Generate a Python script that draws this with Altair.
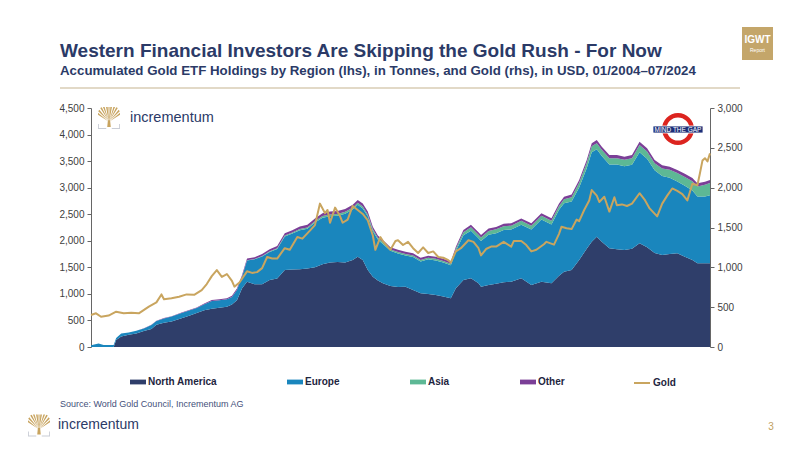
import altair as alt
import pandas as pd

# ---------------- data ----------------
dates = ["2004-01", "2004-04", "2004-06", "2004-10", "2004-11", "2005-01", "2005-04", "2005-07", "2005-10",
         "2006-01", "2006-03", "2006-06", "2006-09", "2007-01", "2007-04", "2007-07", "2007-10",
         "2008-01", "2008-04", "2008-07", "2008-09", "2008-11", "2009-01", "2009-03", "2009-06", "2009-09", "2009-12",
         "2010-03", "2010-06", "2010-09", "2010-12", "2011-03", "2011-06", "2011-09", "2011-12",
         "2012-03", "2012-06", "2012-09", "2012-11", "2013-01", "2013-03", "2013-05", "2013-07", "2013-09", "2013-12",
         "2014-03", "2014-06", "2014-09", "2014-12", "2015-03", "2015-06", "2015-09", "2015-12",
         "2016-02", "2016-05", "2016-08", "2016-11", "2016-12", "2017-03", "2017-06", "2017-09", "2017-12",
         "2018-04", "2018-08", "2018-12", "2019-04", "2019-07", "2019-09", "2019-12",
         "2020-03", "2020-06", "2020-08", "2020-10", "2020-12", "2021-03", "2021-06", "2021-09", "2021-12",
         "2022-03", "2022-06", "2022-09", "2022-12", "2023-03", "2023-06", "2023-09", "2023-12",
         "2024-02", "2024-05", "2024-07"]

north_america = [0, 0, 0, 0, 130, 200, 230, 255, 300,
                 340, 420, 455, 480, 540, 590, 640, 690,
                 720, 740, 760, 800, 880, 1100, 1230, 1180, 1180, 1262,
                 1290, 1450, 1460, 1463, 1480, 1500, 1560, 1590,
                 1600, 1590, 1640, 1700, 1640, 1450, 1324, 1250, 1200, 1150,
                 1130, 1135, 1073, 1011, 1000, 979, 950, 917,
                 1105, 1262, 1293, 1200, 1136, 1168, 1190, 1220, 1230,
                 1293, 1168, 1230, 1199, 1340, 1418, 1450,
                 1638, 1850, 1980, 2077, 1983, 1858, 1840, 1826, 1850,
                 1952, 1880, 1770, 1732, 1750, 1764, 1700, 1638,
                 1576, 1576, 1576]

europe = [35, 65, 40, 40, 40, 55, 45, 50, 50,
          75, 70, 82, 92, 100, 95, 93, 115,
          147, 140, 140, 143, 195, 222, 400, 470, 525, 528,
          555, 630, 675, 737, 746, 842, 875, 873,
          871, 920, 948, 978, 968, 1010, 860, 775, 740, 660,
          630, 590, 623, 601, 650, 651, 640, 622,
          704, 844, 897, 847, 860, 947, 953, 983, 983,
          1010, 1046, 1172, 1109, 1243, 1289, 1290,
          1365, 1516, 1688, 1646, 1614, 1578, 1596, 1578, 1581,
          1717, 1664, 1556, 1490, 1437, 1351, 1338, 1310,
          1258, 1257, 1281]

asia = [0, 0, 0, 0, 0, 0, 0, 0, 0,
        0, 0, 0, 0, 0, 0, 0, 0,
        0, 0, 0, 0, 0, 0, 5, 8, 10, 12,
        15, 18, 20, 22, 24, 26, 30, 32,
        34, 35, 36, 36, 36, 35, 32, 30, 30, 28,
        28, 28, 28, 28, 30, 30, 30, 30,
        40, 55, 65, 68, 68, 70, 72, 72, 72,
        72, 70, 70, 70, 72, 75, 80,
        90, 100, 110, 115, 115, 120, 120, 120, 125,
        135, 135, 135, 140, 150, 160, 165, 175,
        190, 220, 230]

other = [0, 0, 0, 0, 0, 0, 0, 0, 5,
         5, 5, 8, 8, 10, 10, 12, 15,
         18, 20, 20, 22, 25, 28, 30, 32, 35, 38,
         40, 42, 45, 48, 50, 52, 55, 55,
         55, 55, 56, 56, 56, 55, 50, 45, 45, 42,
         42, 42, 40, 40, 40, 40, 40, 38,
         40, 42, 45, 45, 45, 45, 45, 45, 45,
         45, 45, 45, 45, 45, 48, 50,
         52, 55, 58, 60, 60, 60, 60, 60, 60,
         62, 62, 60, 58, 58, 58, 57, 57,
         57, 57, 58]

gold_dates = ["2004-01", "2004-03", "2004-05", "2004-08", "2004-11", "2005-02", "2005-05", "2005-08", "2005-12",
              "2006-03", "2006-05", "2006-06", "2006-09", "2006-12", "2007-03", "2007-06", "2007-09", "2007-11",
              "2008-01", "2008-03", "2008-05", "2008-07", "2008-09", "2008-10", "2008-12",
              "2009-03", "2009-05", "2009-07", "2009-09", "2009-11", "2010-01", "2010-03", "2010-06", "2010-08", "2010-11",
              "2011-01", "2011-04", "2011-06", "2011-08", "2011-10", "2011-11", "2011-12",
              "2012-02", "2012-04", "2012-05", "2012-07", "2012-09", "2012-11", "2013-01", "2013-03", "2013-05", "2013-06",
              "2013-08", "2013-09", "2013-12", "2014-02", "2014-03", "2014-05", "2014-07", "2014-09", "2014-11",
              "2015-01", "2015-03", "2015-05", "2015-07", "2015-09", "2015-11", "2015-12",
              "2016-02", "2016-04", "2016-07", "2016-09", "2016-11", "2016-12", "2017-02", "2017-04", "2017-06", "2017-09", "2017-12",
              "2018-01", "2018-04", "2018-06", "2018-08", "2018-10", "2019-01", "2019-02", "2019-05", "2019-07", "2019-08", "2019-10", "2019-12",
              "2020-02", "2020-03", "2020-05", "2020-07", "2020-08", "2020-10", "2020-11",
              "2021-01", "2021-03", "2021-05", "2021-06", "2021-08", "2021-10", "2021-12",
              "2022-03", "2022-05", "2022-07", "2022-10", "2022-12", "2023-02", "2023-04", "2023-06", "2023-08", "2023-10", "2023-12",
              "2024-02", "2024-03", "2024-04", "2024-05", "2024-06", "2024-07"]

gold_usd = [402, 423, 380, 395, 443, 423, 431, 423, 506,
            560, 660, 600, 611, 630, 660, 655, 715, 790,
            890, 966, 880, 916, 830, 757, 810,
            950, 930, 940, 990, 1130, 1110, 1110, 1240, 1220, 1380,
            1360, 1460, 1530, 1800, 1680, 1720, 1560,
            1750, 1640, 1560, 1600, 1770, 1720, 1670, 1590, 1400, 1220,
            1380, 1330, 1220, 1330, 1340, 1280, 1320, 1240, 1180,
            1250, 1180, 1200, 1130, 1120, 1090, 1060,
            1200, 1240, 1340, 1320, 1240, 1150, 1230, 1260, 1260, 1320, 1260,
            1330, 1330, 1280, 1200, 1220, 1290, 1320, 1285, 1420, 1510, 1490, 1480,
            1600, 1580, 1720, 1840, 1970, 1900, 1820,
            1886, 1700, 1880, 1780, 1790, 1770, 1800,
            1930, 1850, 1740, 1640, 1800, 1900, 1990, 1960, 1920, 1840, 2050,
            2030, 2180, 2340, 2370, 2330, 2430]

regions = ["North America", "Europe", "Asia", "Other"]
region_colors = ["#2f3e6a", "#1a86bd", "#5db895", "#7b3f97"]
gold_label = "Gold"
gold_color = "#c9a55f"

x_ticks = [2004, 2006, 2008, 2010, 2012, 2014, 2016, 2018, 2020, 2022, 2024]
left_ticks = [0, 500, 1000, 1500, 2000, 2500, 3000, 3500, 4000, 4500]
right_ticks = [0, 500, 1000, 1500, 2000, 2500, 3000]

title_text = "Western Financial Investors Are Skipping the Gold Rush - For Now"
subtitle_text = "Accumulated Gold ETF Holdings by Region (lhs), in Tonnes, and Gold (rhs), in USD, 01/2004\u201307/2024"
source_text = "Source: World Gold Council, Incrementum AG"

# ---------------- tables ----------------
def to_year(s):
    y, m = s.split("-")
    return int(y) + (int(m) - 1) / 12.0

rows = []
for i, d in enumerate(dates):
    for rank, (name, vals) in enumerate(zip(regions, [north_america, europe, asia, other])):
        rows.append({"year": to_year(d), "region": name, "tonnes": vals[i], "rank": rank})
stack_df = pd.DataFrame(rows)
gold_df = pd.DataFrame({"year": [to_year(d) for d in gold_dates], "usd": gold_usd, "series": gold_label})

FONT = "Liberation Sans, Arial, sans-serif"
NAVY = "#2b3a67"

xscale = alt.Scale(domain=[2004, 2024.5], nice=False, zero=False)

area = alt.Chart(stack_df).mark_area(interpolate="linear").encode(
    x=alt.X("year:Q", scale=xscale,
            axis=alt.Axis(values=x_ticks, format="d", title=None, labelFlush=False,
                          domainColor="#333333", tickColor="#333333", tickSize=4, labelPadding=2)),
    y=alt.Y("tonnes:Q", stack="zero", scale=alt.Scale(domain=[0, 4500], nice=False),
            axis=alt.Axis(values=left_ticks, format=",.0f", title=None, orient="left",
                          domainColor="#666666", tickColor="#666666", tickSize=4, labelPadding=3)),
    color=alt.Color("region:N", scale=alt.Scale(domain=regions, range=region_colors),
                    legend=alt.Legend(orient="none", legendX=39, legendY=266, direction="horizontal",
                                      columns=4, columnPadding=70, title=None,
                                      symbolType="M-1,-0.3H1V0.3H-1Z", symbolSize=256,
                                      symbolStrokeWidth=0, labelOffset=2,
                                      labelFont=FONT, labelFontSize=10, labelFontWeight="bold",
                                      labelColor="#1e2540", padding=0)),
    order=alt.Order("rank:Q"),
)

line = alt.Chart(gold_df).mark_line(strokeWidth=2, strokeJoin="round").encode(
    x=alt.X("year:Q", scale=xscale, axis=None),
    y=alt.Y("usd:Q", scale=alt.Scale(domain=[0, 3000], nice=False),
            axis=alt.Axis(values=right_ticks, format=",.0f", title=None, orient="right",
                          domainColor="#666666", tickColor="#666666", tickSize=4, labelPadding=3)),
    stroke=alt.Stroke("series:N", scale=alt.Scale(domain=[gold_label], range=[gold_color]),
                      legend=alt.Legend(orient="none", legendX=542, legendY=266, title=None,
                                        symbolType="stroke", symbolSize=256, symbolStrokeWidth=2,
                                        labelOffset=2, labelFont=FONT, labelFontSize=10,
                                        labelFontWeight="bold", labelColor="#1e2540", padding=0)),
)

one = alt.Data(values=[{"k": 1}])

def txt(s, x, y, size, color, weight="normal", align="left", baseline="middle"):
    return alt.Chart(alt.Data(values=[{"label": s}])).mark_text(
        font=FONT, fontSize=size, color=color, fontWeight=weight, align=align, baseline=baseline
    ).encode(text="label:N", x=alt.value(x), y=alt.value(y))

# stylised Incrementum tree (fan of branches on a trunk)
TREE = ("M-0.16,0.82L-0.1,0.2L0.1,0.2L0.16,0.82Z"
        "M-0.08,0.3L-1,-0.3L-1,-0.48Z"
        "M-0.07,0.26L-0.98,-0.62L-0.88,-0.76Z"
        "M-0.06,0.23L-0.8,-0.9L-0.66,-0.97Z"
        "M-0.05,0.21L-0.55,-1L-0.4,-1Z"
        "M-0.04,0.2L-0.27,-1L-0.12,-1Z"
        "M-0.03,0.2L-0.05,-1L0.05,-1L0.03,0.2Z"
        "M0.04,0.2L0.12,-1L0.27,-1Z"
        "M0.05,0.21L0.4,-1L0.55,-1Z"
        "M0.06,0.23L0.66,-0.97L0.8,-0.9Z"
        "M0.07,0.26L0.88,-0.76L0.98,-0.62Z"
        "M0.08,0.3L1,-0.48L1,-0.3Z")
BOOK = ("M-1,0.55H-0.92V0.92H-0.25V1H-1Z"
        "M1,0.55H0.92V0.92H0.25V1H1Z")

def tree(x, y):
    return [
        alt.Chart(one).mark_point(shape=TREE, size=484, filled=True, color="#c8a45f",
                                  opacity=1, strokeWidth=0).encode(x=alt.value(x), y=alt.value(y)),
        alt.Chart(one).mark_point(shape=BOOK, size=484, filled=True, color="#c9cdd6",
                                  opacity=1, strokeWidth=0).encode(x=alt.value(x), y=alt.value(y)),
    ]

decor = [
    txt(title_text, -31, -51, 19, NAVY, "bold", baseline="alphabetic"),
    txt(subtitle_text, -31, -33, 13.3, NAVY, "bold", baseline="alphabetic"),
    alt.Chart(one).mark_rule(color="#d9cdb4", strokeWidth=1.5).encode(
        x=alt.value(-31), x2=alt.value(649), y=alt.value(-20)),
    alt.Chart(one).mark_rect(color="#c4a66a").encode(
        x=alt.value(651), x2=alt.value(682), y=alt.value(-81), y2=alt.value(-48)),
    txt("IGWT", 666.5, -68, 10, "white", "bold", align="center"),
    txt("Report", 666.5, -58, 5, "white", align="center"),
    *tree(18, 10),
    txt("incrementum", 39, 10, 14.5, NAVY),
    alt.Chart(one).mark_point(shape="circle", size=756, filled=False, color="#dc241f",
                              strokeWidth=4.5, opacity=1).encode(x=alt.value(587), y=alt.value(21)),
    alt.Chart(one).mark_rect(color="#1c2e78", stroke="white", strokeWidth=0.8).encode(
        x=alt.value(562), x2=alt.value(612), y=alt.value(18), y2=alt.value(25)),
    txt("MIND THE GAP", 587, 21.7, 6.5, "white", align="center"),
    txt(source_text, -31, 296, 9, "#44507a"),
    *tree(-52, 317.5),
    txt("incrementum", -33, 317, 14, NAVY),
    txt("3", 680, 319, 10, "#c0a060", align="center"),
]

chart = alt.layer(area, line, *decor).resolve_scale(y="independent").properties(
    width=619, height=239,
    padding={"left": 83, "top": 100, "right": 84, "bottom": 96},
    autosize=alt.AutoSizeParams(type="none"),
    background="white",
).configure_view(stroke=None).configure_axis(
    labelFont=FONT, labelFontSize=10, labelColor="#404040", grid=False
)

chart.save("out.html", embed_options={"renderer": "svg", "actions": False})
